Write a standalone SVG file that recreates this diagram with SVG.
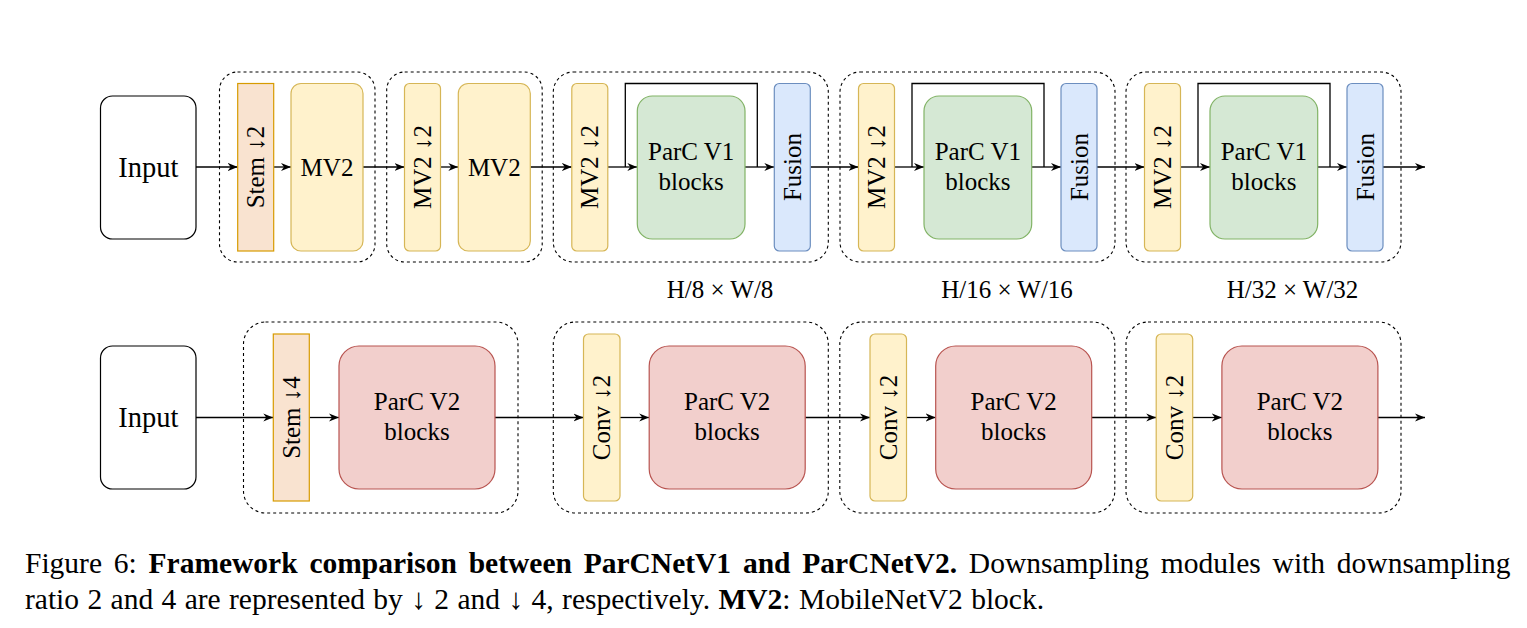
<svg xmlns="http://www.w3.org/2000/svg" width="1527" height="628" viewBox="0 0 1527 628">
<style>
text{font-family:"Liberation Serif","Times New Roman",serif;fill:#000}
.lbl{font-size:25px;text-anchor:middle}
.inp{font-size:28.5px;text-anchor:middle}
.grp{fill:none;stroke:#000;stroke-width:1.1;stroke-dasharray:3 3}
.box{fill:#fff;stroke:#000;stroke-width:1.2}
.org{fill:#f9e3d0;stroke:#d79b00;stroke-width:1.2}
.yel{fill:#fff2cc;stroke:#d6b656;stroke-width:1.2}
.grn{fill:#d5e8d4;stroke:#82b366;stroke-width:1.2}
.blu{fill:#dae8fc;stroke:#6c8ebf;stroke-width:1.2}
.red{fill:#f2cfcc;stroke:#b85450;stroke-width:1.2}
.c{fill:none;stroke:#000;stroke-width:1.3}
.a{marker-end:url(#arr)}
.cap{font-size:29.5px}
</style>
<defs>
<marker id="arr" viewBox="0 0 10 10" refX="10" refY="5" markerWidth="10" markerHeight="10" markerUnits="userSpaceOnUse" orient="auto">
<path d="M0,1 L10,5 L0,9 L3,5 z" fill="#000"/>
</marker>
</defs>

<!-- groups (dashed containers) -->
<g id="stage-groups">
<rect class="grp" x="219.5" y="72" width="155.5" height="190" rx="18"/>
<rect class="grp" x="386.7" y="72" width="155.5" height="190" rx="18"/>
<rect class="grp" x="553.3" y="72" width="275" height="190" rx="20"/>
<rect class="grp" x="840" y="72" width="275" height="190" rx="20"/>
<rect class="grp" x="1126" y="72" width="275" height="190" rx="20"/>
<rect class="grp" x="243.5" y="322" width="274.5" height="191" rx="22"/>
<rect class="grp" x="553.3" y="322" width="275" height="191" rx="22"/>
<rect class="grp" x="839.8" y="322" width="275" height="191" rx="22"/>
<rect class="grp" x="1126" y="322" width="275" height="191" rx="22"/>
</g>

<!-- connectors -->
<g id="connectors">
<line class="c a" x1="196" y1="167" x2="237.7" y2="167"/>
<line class="c a" x1="273.7" y1="167" x2="291" y2="167"/>
<line class="c a" x1="363" y1="167" x2="404.5" y2="167"/>
<line class="c a" x1="440.5" y1="167" x2="458.3" y2="167"/>
<line class="c a" x1="530.3" y1="167" x2="571.8" y2="167"/>
<line class="c a" x1="607.8" y1="167" x2="637.3" y2="167"/>
<polyline class="c" points="625.3,167 625.3,83.5 757.3,83.5 757.3,167"/>
<line class="c a" x1="745" y1="167" x2="774.3" y2="167"/>
<line class="c a" x1="810.3" y1="167" x2="858.5" y2="167"/>
<line class="c a" x1="894.5" y1="167" x2="924" y2="167"/>
<polyline class="c" points="912,167 912,83.5 1044,83.5 1044,167"/>
<line class="c a" x1="1031.7" y1="167" x2="1061" y2="167"/>
<line class="c a" x1="1097" y1="167" x2="1144.5" y2="167"/>
<line class="c a" x1="1180.5" y1="167" x2="1210" y2="167"/>
<polyline class="c" points="1198,167 1198,83.5 1330,83.5 1330,167"/>
<line class="c a" x1="1317.7" y1="167" x2="1347" y2="167"/>
<line class="c a" x1="1383" y1="167" x2="1425" y2="167"/>
<line class="c a" x1="196" y1="417.5" x2="273.3" y2="417.5"/>
<line class="c a" x1="309.3" y1="417.5" x2="339" y2="417.5"/>
<line class="c a" x1="495" y1="417.5" x2="583.5" y2="417.5"/>
<line class="c a" x1="620" y1="417.5" x2="649.2" y2="417.5"/>
<line class="c a" x1="805.2" y1="417.5" x2="870" y2="417.5"/>
<line class="c a" x1="906.5" y1="417.5" x2="935.7" y2="417.5"/>
<line class="c a" x1="1091.7" y1="417.5" x2="1156.2" y2="417.5"/>
<line class="c a" x1="1192.7" y1="417.5" x2="1221.9" y2="417.5"/>
<line class="c a" x1="1377.9" y1="417.5" x2="1425" y2="417.5"/>
</g>

<!-- top row nodes -->
<g id="input-v1"><rect class="box" x="100.5" y="96" width="95.5" height="143" rx="12"/><text class="inp" x="148.3" y="176.5">Input</text></g>
<g id="stem-v1"><rect class="org" x="237.7" y="83.5" width="36" height="167.5"/><text class="lbl" transform="translate(264.2,167) rotate(-90)">Stem ↓2</text></g>
<g id="mv2-1"><rect class="yel" x="291" y="83.5" width="72" height="167.5" rx="10"/><text class="lbl" x="327" y="175.5">MV2</text></g>
<g id="mv2down-1"><rect class="yel" x="404.5" y="83.5" width="36" height="167.5" rx="5"/><text class="lbl" transform="translate(431,167) rotate(-90)">MV2 ↓2</text></g>
<g id="mv2-2"><rect class="yel" x="458.3" y="83.5" width="72" height="167.5" rx="10"/><text class="lbl" x="494.3" y="175.5">MV2</text></g>

<g id="mv2down-2"><rect class="yel" x="571.8" y="83.5" width="36" height="167.5" rx="5"/><text class="lbl" transform="translate(598.3,167) rotate(-90)">MV2 ↓2</text></g>
<g id="parcv1-1"><rect class="grn" x="637.3" y="96" width="107.7" height="143" rx="15"/><text class="lbl" x="691.2" y="160">ParC V1</text><text class="lbl" x="691.2" y="190">blocks</text></g>
<g id="fusion-1"><rect class="blu" x="774.3" y="83.5" width="36" height="167.5" rx="5"/><text class="lbl" transform="translate(800.8,167) rotate(-90)">Fusion</text></g>

<g id="mv2down-3"><rect class="yel" x="858.5" y="83.5" width="36" height="167.5" rx="5"/><text class="lbl" transform="translate(885,167) rotate(-90)">MV2 ↓2</text></g>
<g id="parcv1-2"><rect class="grn" x="924" y="96" width="107.7" height="143" rx="15"/><text class="lbl" x="977.9" y="160">ParC V1</text><text class="lbl" x="977.9" y="190">blocks</text></g>
<g id="fusion-2"><rect class="blu" x="1061" y="83.5" width="36" height="167.5" rx="5"/><text class="lbl" transform="translate(1087.5,167) rotate(-90)">Fusion</text></g>

<g id="mv2down-4"><rect class="yel" x="1144.5" y="83.5" width="36" height="167.5" rx="5"/><text class="lbl" transform="translate(1171,167) rotate(-90)">MV2 ↓2</text></g>
<g id="parcv1-3"><rect class="grn" x="1210" y="96" width="107.7" height="143" rx="15"/><text class="lbl" x="1263.9" y="160">ParC V1</text><text class="lbl" x="1263.9" y="190">blocks</text></g>
<g id="fusion-3"><rect class="blu" x="1347" y="83.5" width="36" height="167.5" rx="5"/><text class="lbl" transform="translate(1373.5,167) rotate(-90)">Fusion</text></g>

<g id="res-labels">
<text class="lbl" x="720" y="298">H/8 × W/8</text>
<text class="lbl" x="1007" y="298">H/16 × W/16</text>
<text class="lbl" x="1292.5" y="298">H/32 × W/32</text>
</g>

<!-- bottom row nodes -->
<g id="input-v2"><rect class="box" x="100.5" y="346" width="95.5" height="143" rx="12"/><text class="inp" x="148.3" y="427">Input</text></g>
<g id="stem-v2"><rect class="org" x="273.3" y="334" width="36" height="167"/><text class="lbl" transform="translate(299.8,417.5) rotate(-90)">Stem ↓4</text></g>
<g id="parcv2-1"><rect class="red" x="339" y="346" width="156" height="143" rx="20"/><text class="lbl" x="417" y="410">ParC V2</text><text class="lbl" x="417" y="440">blocks</text></g>
<g id="conv-1"><rect class="yel" x="583.5" y="334" width="36.5" height="167" rx="5"/><text class="lbl" transform="translate(610.3,417.5) rotate(-90)">Conv ↓2</text></g>
<g id="parcv2-2"><rect class="red" x="649.2" y="346" width="156" height="143" rx="20"/><text class="lbl" x="727.2" y="410">ParC V2</text><text class="lbl" x="727.2" y="440">blocks</text></g>
<g id="conv-2"><rect class="yel" x="870" y="334" width="36.5" height="167" rx="5"/><text class="lbl" transform="translate(896.8,417.5) rotate(-90)">Conv ↓2</text></g>
<g id="parcv2-3"><rect class="red" x="935.7" y="346" width="156" height="143" rx="20"/><text class="lbl" x="1013.7" y="410">ParC V2</text><text class="lbl" x="1013.7" y="440">blocks</text></g>
<g id="conv-3"><rect class="yel" x="1156.2" y="334" width="36.5" height="167" rx="5"/><text class="lbl" transform="translate(1183,417.5) rotate(-90)">Conv ↓2</text></g>
<g id="parcv2-4"><rect class="red" x="1221.9" y="346" width="156" height="143" rx="20"/><text class="lbl" x="1299.9" y="410">ParC V2</text><text class="lbl" x="1299.9" y="440">blocks</text></g>

<!-- caption -->
<g id="caption">
<text class="cap" x="25" y="573" word-spacing="4.4">Figure 6: <tspan font-weight="bold">Framework comparison between ParCNetV1 and ParCNetV2.</tspan> Downsampling modules with downsampling</text>
<text class="cap" x="25" y="609" word-spacing="1">ratio 2 and 4 are represented by ↓ 2 and ↓ 4, respectively. <tspan font-weight="bold">MV2</tspan>: MobileNetV2 block.</text>
</g>
</svg>
